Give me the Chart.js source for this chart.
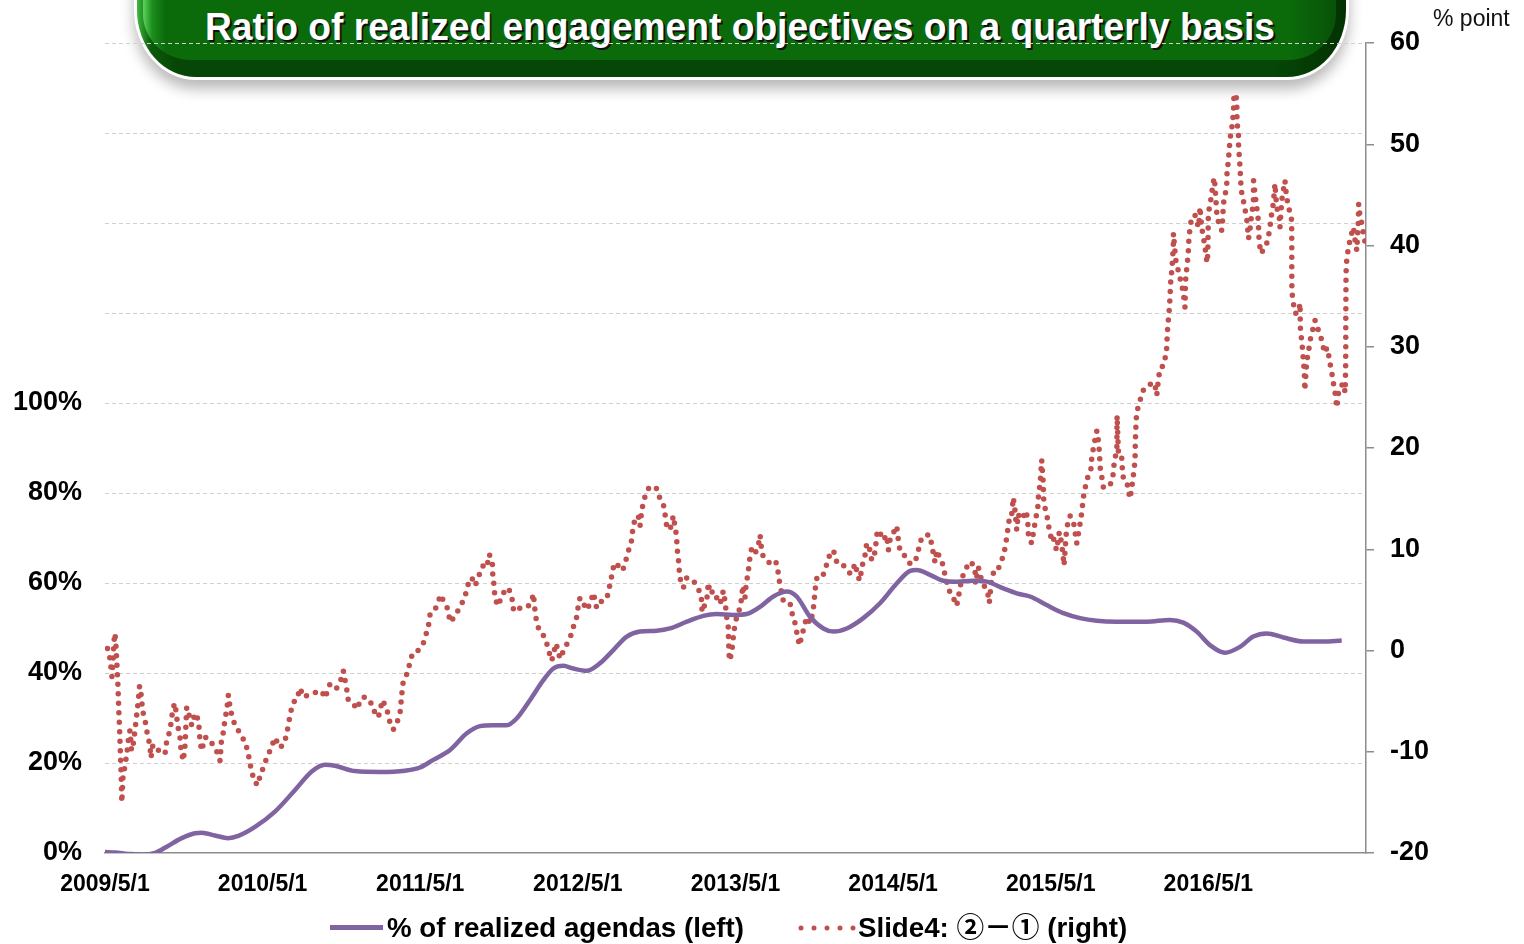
<!DOCTYPE html>
<html><head><meta charset="utf-8">
<script src="https://cdn.jsdelivr.net/npm/chart.js@4.4.1/dist/chart.umd.min.js"></script>
<style>
html,body{margin:0;padding:0;background:#fff;width:1524px;height:944px;overflow:hidden;position:relative;font-family:"Liberation Sans",Arial,sans-serif;}
#banner{position:absolute;left:134px;top:-60px;width:1215px;height:140px;background:#fff;border-radius:0 0 62px 62px / 0 0 70px 70px;box-shadow:0 9px 14px rgba(0,0,0,0.28);}
#dark{position:absolute;left:3px;right:3px;top:0;bottom:3px;border-radius:0 0 59px 59px / 0 0 67px 67px;background:linear-gradient(to right,#3fb83f 0,#0a5a0a 14px,#064606 40px,#064606 94%,#033203 100%);overflow:hidden;}
#main{position:absolute;left:6px;right:10px;top:0;bottom:17px;border-radius:0 0 48px 48px / 0 0 46px 46px;background:linear-gradient(to right,#5dd45d 0,#1d8f1d 9px,#0b6b0b 22px,#0b6b0b 96%,#075207 100%);}
#titleWrap{position:absolute;left:205px;top:8px;width:1070px;height:44px;}
#title{display:inline-block;white-space:nowrap;color:#fff;font-weight:bold;font-size:38px;line-height:38px;font-family:"Liberation Sans",Arial,sans-serif;text-shadow:2px 2px 0 #111;transform-origin:0 0;}
#c{position:absolute;left:0;top:0;}
#ptitle{position:absolute;left:1433px;top:5px;font-size:23px;line-height:26px;color:#111;}
.leg{position:absolute;top:913px;font-weight:bold;font-size:27.7px;line-height:30px;color:#000;white-space:nowrap;font-family:"Liberation Sans","Noto Sans CJK JP",sans-serif;}
</style></head>
<body>
<div id="banner"><div id="dark"><div id="main"></div></div></div>
<div id="titleWrap"><span id="title">Ratio of realized engagement objectives on a quarterly basis</span></div>
<canvas id="c" width="1524" height="944"></canvas>
<div id="ptitle">% point</div>
<div style="position:absolute;left:330px;top:925px;width:53px;height:5px;background:#8064a2;"></div>
<div class="leg" style="left:387px;">% of realized agendas (left)</div>
<svg style="position:absolute;left:795px;top:923px" width="62" height="10"><line x1="6" y1="5" x2="59" y2="5" stroke="#c0504d" stroke-width="5" stroke-linecap="round" stroke-dasharray="0 13"/></svg>
<div class="leg" style="left:858px;">Slide4: ②－① (right)</div>
<script>
// x values: months elapsed since 2009/5/1
const xTickLabels = ['2009/5/1','2010/5/1','2011/5/1','2012/5/1','2013/5/1','2014/5/1','2015/5/1','2016/5/1'];
const leftTickValues = [0,20,40,60,80,100,120,140,160,180];
const rightTickValues = [-20,-10,0,10,20,30,40,50,60];

// % of realized agendas (left axis, %)
const agendaSeries = [[0,0.2],[0.76,0.1],[1.77,-0.2],[2.92,-0.4],[3.81,0.0],[4.70,1.4],[5.84,3.3],[6.85,4.4],[7.36,4.5],[8.37,3.9],[9.39,3.3],[10.15,3.8],[11.42,5.8],[12.94,9.2],[14.47,14.0],[15.74,18.1],[16.75,19.6],[17.51,19.4],[19.03,18.2],[20.94,18.0],[22.84,18.3],[23.98,19.0],[24.99,20.7],[26.27,22.9],[27.54,26.6],[28.55,28.2],[29.56,28.4],[30.58,28.4],[31.34,29.9],[32.36,34.0],[33.37,38.4],[34.13,41.0],[34.89,41.6],[35.65,41.0],[36.67,40.5],[37.69,42.2],[38.70,45.1],[39.72,48.1],[40.73,49.2],[42.00,49.4],[43.01,49.9],[44.29,51.4],[45.55,52.7],[46.57,53.1],[47.83,52.9],[48.85,53.1],[49.87,54.7],[50.88,57.0],[51.90,58.1],[52.66,57.0],[53.67,52.5],[54.69,49.9],[55.45,49.2],[56.47,49.9],[57.73,52.2],[59.00,55.5],[60.27,59.9],[61.29,62.7],[61.80,62.9],[62.81,61.8],[63.82,60.5],[64.84,60.3],[66.10,60.5],[67.13,60.3],[68.39,58.8],[69.41,57.7],[70.42,57.0],[71.69,55.1],[72.96,53.3],[74.23,52.2],[75.50,51.6],[77.02,51.4],[79.31,51.4],[81.08,51.8],[82.09,51.2],[83.11,49.2],[84.12,46.2],[85.27,44.5],[86.41,45.8],[87.42,48.1],[88.44,48.8],[89.71,47.9],[91.23,47.0],[92.75,47.0],[94.15,47.2]];

// Slide4: (2)-(1) (right axis, % point)
const diffSeries = [[0.19,0.2],[0.38,-0.8],[0.53,-2.6],[0.61,-1.0],[0.69,1.0],[0.76,1.7],[0.84,0.3],[0.91,-1.5],[0.97,-3.0],[1.01,-4.4],[1.05,-5.9],[1.10,-7.4],[1.14,-8.9],[1.18,-10.5],[1.22,-11.9],[1.25,-13.3],[1.28,-15.0],[1.37,-12.5],[1.52,-11.4],[1.67,-10.1],[1.79,-8.7],[1.90,-7.9],[2.02,-9.9],[2.17,-9.1],[2.28,-7.9],[2.41,-6.4],[2.54,-4.9],[2.63,-3.5],[2.78,-4.6],[2.85,-5.9],[3.05,-6.9],[3.17,-7.9],[3.30,-8.6],[3.43,-9.6],[3.50,-10.6],[3.65,-9.3],[3.94,-9.6],[4.19,-10.1],[4.57,-10.2],[4.70,-8.9],[4.95,-7.9],[5.08,-6.6],[5.20,-5.6],[5.33,-5.2],[5.46,-6.6],[5.58,-7.7],[5.71,-8.6],[5.79,-9.9],[5.96,-10.9],[6.09,-9.4],[6.22,-5.6],[6.40,-6.4],[6.60,-7.4],[6.85,-6.2],[7.00,-6.4],[7.16,-7.6],[7.23,-8.9],[7.36,-9.9],[7.61,-8.6],[7.86,-8.6],[8.12,-9.1],[8.30,-9.6],[8.63,-10.2],[8.76,-10.9],[8.88,-8.6],[9.01,-8.1],[9.14,-6.7],[9.27,-5.9],[9.39,-4.4],[9.52,-5.6],[9.65,-6.4],[9.90,-7.4],[10.15,-7.9],[10.41,-8.6],[10.66,-8.9],[10.79,-9.6],[10.91,-10.2],[11.04,-11.2],[11.17,-11.9],[11.37,-13.0],[11.67,-13.3],[11.80,-12.3],[12.05,-11.6],[12.31,-10.6],[12.56,-9.9],[12.94,-8.6],[13.32,-9.6],[13.65,-9.2],[13.83,-8.2],[13.96,-7.4],[14.11,-6.2],[14.34,-5.1],[14.59,-4.9],[14.85,-3.7],[15.10,-4.6],[15.48,-4.4],[15.86,-4.2],[16.24,-4.1],[16.50,-4.0],[16.75,-4.7],[17.13,-3.3],
[17.38,-3.3],[17.64,-3.7],[18.02,-2.7],[18.14,-2.0],[18.40,-3.8],[18.52,-4.9],[18.90,-5.2],[19.16,-5.8],[19.54,-4.7],[19.79,-4.6],[20.05,-5.1],[20.30,-5.2],[20.56,-6.2],[20.81,-6.6],[21.07,-5.2],[21.19,-4.9],[21.32,-5.7],[21.57,-6.2],[21.70,-7.2],[21.95,-7.8],[22.21,-7.2],[22.46,-6.2],[22.59,-4.4],[22.67,-3.3],[22.84,-2.7],[23.09,-2.0],[23.22,-1.0],[23.43,-0.3],[23.73,-0.2],[23.98,0.3],[24.23,0.7],[24.49,1.8],[24.61,2.3],[24.74,3.5],[24.99,3.7],[25.25,4.4],[25.56,5.5],[25.76,4.9],[26.01,4.4],[26.14,3.8],[26.27,2.8],[26.52,3.2],[26.78,3.7],[27.03,4.4],[27.28,4.9],[27.46,5.6],[27.66,6.6],[27.92,7.2],[28.17,6.4],[28.37,7.0],[28.60,7.9],[28.80,8.4],[29.06,8.2],[29.26,9.5],[29.49,8.6],[29.52,7.5],[29.62,6.4],[29.69,5.1],[29.94,4.4],[30.20,5.4],[30.45,5.9],[30.70,6.2],[30.96,5.4],[31.09,4.1],[31.34,3.8],[31.59,4.2],[31.85,4.4],[32.23,4.4],[32.49,4.9],[32.61,5.6],[32.74,3.9],[32.87,2.7],[33.12,1.8],[33.37,1.5],[33.63,0.7],[33.88,-0.5],[34.01,-1.0],[34.34,0.7],[34.64,-0.8],[35.02,0.3],[35.40,1.2],
[35.65,2.3],[35.91,3.3],[36.03,4.4],[36.16,5.2],[36.41,4.7],[36.67,4.0],[36.92,4.6],[37.18,5.7],[37.43,4.2],[37.82,4.9],[38.20,5.1],[38.39,6.2],[38.58,7.4],[38.70,8.2],[38.96,8.7],[39.21,7.9],[39.46,8.1],[39.72,9.2],[39.97,10.4],[40.10,10.9],[40.18,12.0],[40.35,13.0],[40.60,13.3],[40.73,12.3],[40.86,13.8],[41.04,15.0],[41.24,15.5],[41.44,16.2],[41.74,16.1],[42.00,16.0],[42.25,15.0],[42.50,14.5],[42.63,13.5],[42.76,12.3],[43.01,11.9],[43.27,13.3],[43.39,12.3],[43.52,11.2],[43.55,10.1],[43.65,9.1],[43.72,7.9],[43.78,7.1],[44.03,6.2],[44.29,7.2],[44.54,7.1],[44.79,6.9],[45.05,6.4],[45.30,5.7],[45.43,4.9],[45.45,3.8],[45.55,4.2],[45.81,4.9],[45.93,6.7],[46.06,5.6],[46.31,5.9],[46.57,5.2],[46.82,4.6],[46.95,5.2],[47.07,5.9],[47.20,4.9],[47.33,3.3],[47.45,2.3],[47.47,1.0],[47.51,-0.2],[47.53,-1.0],[47.71,-0.3],[47.79,0.8],[47.89,2.0],[48.09,3.3],[48.34,4.2],[48.47,5.2],[48.55,6.4],[48.72,5.2],[48.80,6.4],[48.98,7.9],[49.10,9.2],[49.23,10.1],[49.49,9.6],[49.74,10.4],[49.87,11.4],[49.99,9.9],[50.12,9.2],[50.38,8.9],[50.63,8.6],[50.88,8.9],[51.14,8.6],[51.26,7.6],[51.39,6.4],[51.52,5.7],[51.64,4.9],[52.15,4.7],[52.28,3.8],[52.53,2.7],[52.71,1.5],[52.86,0.5],
[53.16,2.0],[53.42,3.3],[53.67,2.7],[53.88,3.7],[53.98,4.7],[54.05,5.9],[54.18,7.1],[54.56,7.1],[54.81,7.9],[55.07,9.1],[55.33,9.9],[55.58,9.6],[55.71,8.7],[56.09,8.6],[56.34,8.2],[56.59,7.7],[56.85,7.6],[57.10,8.6],[57.35,7.2],[57.48,6.9],[57.61,8.2],[57.86,9.4],[57.99,10.6],[58.24,9.9],[58.37,8.9],[58.62,9.7],[58.80,11.9],[59.01,11.6],[59.25,10.9],[59.51,11.4],[59.64,9.9],[59.76,10.9],[60.01,11.6],[60.27,12.3],[60.40,10.9],[60.52,9.9],[60.78,9.6],[61.03,8.9],[61.29,8.6],[61.67,8.7],[61.92,9.9],[62.18,11.2],[62.56,11.4],[62.81,11.4],[62.94,10.4],[63.19,8.7],[63.32,9.9],[63.57,9.1],[63.82,8.4],[63.95,7.4],[64.28,5.9],[64.58,5.2],[64.84,4.4],[65.09,6.1],[65.22,7.2],[65.47,7.7],[65.73,8.7],[65.98,8.7],[66.24,7.9],[66.27,6.6],[66.49,8.2],[66.74,6.9],[67.00,6.2],[67.25,5.4],[67.32,4.7],[67.51,7.2],[67.76,8.1],[68.01,8.1],[68.27,8.9],[68.52,10.1],[68.65,11.2],[68.77,12.3],[68.90,13.5],[69.03,13.5],[69.15,15.1],[69.28,13.8],[69.41,11.9],[69.53,13.5],[69.66,13.0],[69.91,13.1],[70.04,13.8],[70.17,13.5],[70.29,12.1],[70.30,11.1],[70.55,10.6],[70.80,12.6],[70.93,13.5],[71.05,14.5],[71.07,15.5],[71.18,16.3],[71.31,18.8],[71.43,16.5],[71.45,15.1],[71.56,14.1],[71.69,13.5],[71.81,12.5],[71.94,11.6],[72.07,10.9],[72.19,11.2],[72.32,10.4],[72.45,9.9],[72.65,11.7],[72.83,10.6],[72.95,9.2],[73.01,8.4],[73.21,12.1],[73.47,13.3],[73.72,12.8],[73.85,11.7],[73.98,10.6],[74.23,12.5],[74.36,13.6],[74.48,15.1],[74.69,16.5],[74.86,17.3],[75.05,17.8],[75.12,19.0],[75.25,20.0],[75.38,20.9],[75.51,21.7],[75.63,20.7],[75.71,19.5],[75.76,18.1],[75.89,17.1],[76.01,16.1],[76.27,16.3],[76.52,16.3],[76.77,17.5],[76.83,18.6],[77.03,19.8],[77.04,20.9],[77.04,22.0],[77.05,23.2],[77.15,19.6],[77.40,19.5],[77.41,18.5],[77.52,17.1],[77.78,16.8],[77.90,15.8],[78.04,15.0],[78.17,16.1],[78.29,17.3],[78.42,18.8],[78.43,20.0],[78.45,21.0],[78.49,22.4],[78.54,23.5],[78.80,24.7],[79.05,25.7],[79.43,26.0],[79.69,26.5],[79.94,26.2],[80.07,25.2],[80.19,26.7],[80.32,27.9],[80.57,28.1],[80.70,28.8],[80.83,29.9],[80.87,31.3],[80.95,32.6],[81.03,33.8],[81.08,34.9],[81.12,36.2],[81.21,37.5],[81.28,38.7],[81.33,40.0],[81.34,41.2],[81.45,39.5],[81.53,38.5],[81.71,37.5],[81.84,36.8],[81.96,36.2],[82.09,35.3],[82.22,33.9],[82.26,36.5],[82.35,37.7],[82.47,39.2],[82.50,40.3],[82.60,41.7],[82.73,42.8],[82.98,43.0],[83.11,42.5],[83.23,41.8],[83.32,42.7],[83.36,43.8],[83.49,41.8],[83.62,40.8],[83.75,39.8],[83.83,38.8],[83.92,38.3],[83.96,39.5],[84.00,43.2],[84.13,44.1],[84.26,45.1],[84.34,46.1],[84.46,46.7],[84.64,43.2],[84.84,41.8],[85.02,41.5],[85.10,42.8],[85.14,44.1],[85.27,44.9],[85.40,46.1],[85.42,47.1],[85.52,48.4],[85.60,49.6],[85.65,50.7],[85.78,51.1],[85.80,52.0],[85.91,53.0],[85.92,54.0],[85.96,55.0],[86.16,54.5],[86.17,53.3],[86.18,52.1],[86.29,51.1],[86.30,49.7],[86.37,48.6],[86.42,47.4],[86.47,46.2],[86.55,45.1],[86.67,44.4],[86.80,43.5],[86.93,42.5],[87.06,40.7],[87.19,41.8],[87.30,43.2],[87.43,44.1],[87.44,46.4],[87.55,45.1],[87.68,43.8],[87.80,42.5],[87.86,40.5],[87.93,39.8],[88.06,39.2],[88.18,39.7],[88.44,40.2],[88.56,40.8],[88.69,41.8],[88.82,43.2],[88.94,44.1],[89.07,46.1],[89.20,43.8],[89.40,42.8],[89.45,41.8],[89.58,44.4],[89.70,45.4],[89.83,46.4],[89.96,44.7],[90.21,43.2],[90.34,42.5],[90.35,40.2],[90.35,37.8],[90.36,35.4],[90.47,34.3],[90.60,33.3],[90.85,33.3],[90.98,34.3],[91.00,31.9],[91.10,30.6],[91.18,29.6],[91.23,28.6],[91.30,27.7],[91.34,25.7],[91.49,28.6],[91.61,29.4],[91.74,30.6],[91.87,31.3],[91.99,31.9],[92.12,32.6],[92.25,32.1],[92.38,31.6],[92.50,31.3],[92.63,30.6],[92.76,29.9],[92.89,29.4],[93.02,29.9],[93.14,29.3],[93.27,28.3],[93.40,27.4],[93.52,26.4],[93.65,25.4],[93.78,24.0],[93.90,25.4],[94.03,26.0],[94.28,26.4],[94.41,25.5],[94.45,27.9],[94.46,30.1],[94.46,32.6],[94.47,34.9],[94.48,37.3],[94.53,38.5],[94.66,39.8],[94.78,40.5],[94.91,41.2],[95.04,41.8],[95.17,40.5],[95.30,39.5],[95.42,42.5],[95.44,44.1],[95.55,42.8],[95.68,42.2],[95.80,41.2],[95.93,40.3]];

const FONT = '"Liberation Sans", Arial, sans-serif';

// fit the banner title text to its width
(function(){
  const t = document.getElementById('title');
  const w = t.getBoundingClientRect().width;
  if (w > 0) t.style.transform = 'scaleX(' + (1070 / w) + ')';
})();

new Chart(document.getElementById('c'), {
  type: 'line',
  data: {
    datasets: [
      {
        label: '% of realized agendas (left)',
        yAxisID: 'y',
        data: agendaSeries.map(p => ({x: p[0], y: p[1]})),
        borderColor: '#8064a2',
        borderWidth: 4.5,
        pointRadius: 0,
        cubicInterpolationMode: 'monotone',
        fill: false
      },
      {
        label: 'Slide4: ②－① (right)',
        yAxisID: 'y1',
        data: diffSeries.map(p => ({x: p[0], y: p[1]})),
        borderColor: '#c0504d',
        borderWidth: 5.5,
        borderDash: [0, 9.5],
        borderCapStyle: 'round',
        borderJoinStyle: 'round',
        pointRadius: 0,
        tension: 0,
        fill: false
      }
    ]
  },
  options: {
    responsive: false,
    animation: false,
    devicePixelRatio: 1,
    layout: {padding: {left: 0, right: 0, top: 43, bottom: 0}},
    plugins: {legend: {display: false}, tooltip: {enabled: false}},
    scales: {
      x: {
        type: 'linear', min: 0, max: 96,
        afterBuildTicks: s => { s.ticks = xTickLabels.map((l, i) => ({value: i * 12})); },
        ticks: {autoSkip: false, maxRotation: 0, minRotation: 0, padding: 18, color: '#000',
          font: {family: FONT, size: 23, weight: 'bold'},
          callback: (v, i) => xTickLabels[i]},
        grid: {drawOnChartArea: false, drawTicks: false},
        border: {display: true, color: '#8c8c8c', width: 1.5},
        afterFit: s => { s.height = 91; }
      },
      y: {
        position: 'left', min: 0, max: 180,
        afterBuildTicks: s => { s.ticks = leftTickValues.map(v => ({value: v})); },
        ticks: {padding: 23, color: '#000', font: {family: FONT, size: 27, weight: 'bold'},
          callback: v => (v <= 100 ? v + '%' : '')},
        grid: {drawTicks: false, lineWidth: 1,
          color: ctx => (ctx.tick && ctx.tick.value === 0 ? 'rgba(0,0,0,0)' : '#d0d0d0')},
        border: {display: false, dash: [4, 3]},
        afterFit: s => { s.width = 105; }
      },
      y1: {
        position: 'right', min: -20, max: 60,
        afterBuildTicks: s => { s.ticks = rightTickValues.map(v => ({value: v})); },
        ticks: {padding: 16, color: '#000', font: {family: FONT, size: 27, weight: 'bold'}},
        grid: {drawOnChartArea: false, drawTicks: true, tickLength: 8, color: '#8c8c8c', lineWidth: 1.5},
        border: {display: true, color: '#8c8c8c', width: 1.5},
        afterFit: s => { s.width = 158; }
      }
    }
  }
});
</script>
</body></html>
